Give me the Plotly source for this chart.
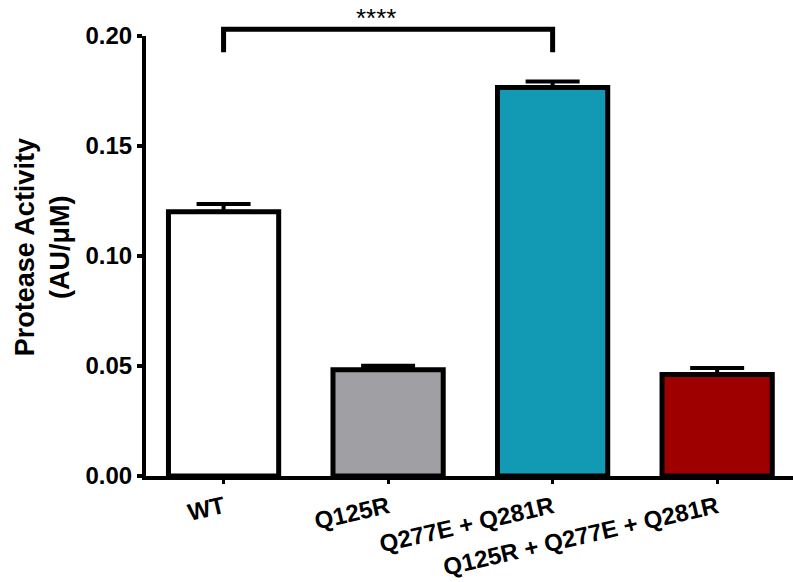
import plotly.graph_objects as go

categories = ["WT", "Q125R", "Q277E + Q281R", "Q125R + Q277E + Q281R"]
activity = [0.1201, 0.0483, 0.1766, 0.0461]
errors = [0.0035, 0.0018, 0.0027, 0.0030]
bar_colors = ["#FFFFFF", "#A09FA4", "#129AB4", "#9E0000"]
y_ticks = [0.00, 0.05, 0.10, 0.15, 0.20]
y_max = 0.20
y_title = "Protease Activity<br>(AU/μM)"
bracket_pair = [0, 2]
bracket_top = 0.2031
bracket_leg = 0.1926
sig_label = "****"

x_pos = list(range(len(categories)))
FONT = "Liberation Sans, Arial, Helvetica, sans-serif"

fig = go.Figure()
fig.add_trace(go.Bar(
    x=x_pos, y=activity, width=0.67,
    marker=dict(color=bar_colors, line=dict(color="black", width=5)),
    error_y=dict(type="data", array=errors, arrayminus=[0] * len(errors),
                 symmetric=False, width=27, thickness=4, color="black"),
    showlegend=False,
))

x0, x1 = bracket_pair
yt = bracket_top / y_max
yl = bracket_leg / y_max
fig.add_shape(type="path", xref="x", yref="paper",
              path=f"M {x0},{yl} L {x0},{yt} L {x1},{yt} L {x1},{yl}",
              line=dict(color="black", width=5))
fig.add_annotation(x=(x0 + x1) / 2, y=yt, xref="x", yref="paper",
                   text=sig_label, showarrow=False, yanchor="bottom",
                   xshift=-12, yshift=-6,
                   font=dict(family=FONT, size=26, color="black"))

# y-axis title as a rotated annotation (positioned like the reference)
fig.add_annotation(x=0, y=0.52, xref="paper", yref="paper",
                   text=y_title, showarrow=False, textangle=-90,
                   xanchor="center", yanchor="middle", xshift=-104,
                   font=dict(family=FONT, size=27, color="black", weight="bold"))

fig.update_layout(
    width=793, height=582,
    margin=dict(l=145.7, r=0, t=35.7, b=106),
    paper_bgcolor="white", plot_bgcolor="white",
    font=dict(family=FONT, color="black"),
)
fig.update_xaxes(
    range=[-0.4715, 3.461], tickvals=x_pos, ticktext=categories,
    tickangle=-13, showline=True, linewidth=4, linecolor="black",
    ticks="outside", ticklen=4, tickwidth=3, tickcolor="black",
    showgrid=False, zeroline=False, automargin=False,
    tickfont=dict(family=FONT, size=24, color="black", weight="bold"),
)
fig.update_yaxes(
    range=[0, y_max], tickvals=y_ticks, tickformat=".2f",
    showline=True, linewidth=4, linecolor="black",
    ticks="outside", ticklen=5, tickwidth=4, tickcolor="black",
    ticklabelstandoff=0, automargin=False,
    showgrid=False, zeroline=False,
    tickfont=dict(family=FONT, size=24, color="black", weight="bold"),
)

fig.write_html("out.html", config={"displayModeBar": False},
               post_script="document.body.style.margin='0';")
